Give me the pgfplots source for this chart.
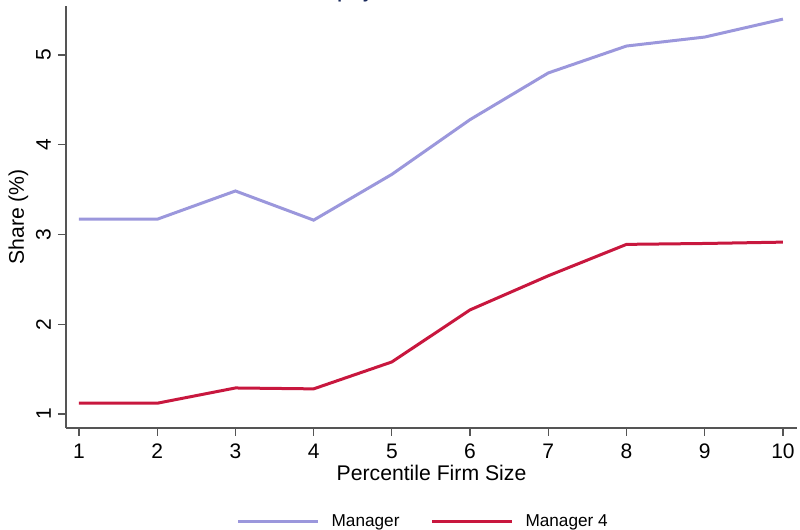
\documentclass[border=0pt]{standalone}
\usepackage{pgfplots}
\pgfplotsset{compat=1.18}
\usepackage{fontspec}
\setmainfont{Liberation Sans}
\definecolor{mgr}{HTML}{9B97DC}
\definecolor{mgrfour}{HTML}{C8173E}
\definecolor{axgray}{HTML}{555555}
\definecolor{titleblue}{HTML}{1A2A5C}
\begin{document}
\begin{tikzpicture}
\begin{axis}[
  at={(0,0)}, anchor=south west,
  scale only axis,
  width=365.5pt, height=211pt,
  xmin=0.834, xmax=10.18,
  ymin=0.844, ymax=5.546,
  axis x line*=bottom, axis y line*=left,
  axis line style={axgray, line width=0.8pt},
  xtick={1,...,10}, ytick={1,2,3,4,5},
  tick align=outside,
  major tick length=4pt,
  tick style={axgray, line width=0.6pt},
  /pgf/number format/assume math mode=true,
  ticklabel style={font=\fontsize{10.5}{12}\selectfont},
  yticklabel style={rotate=90, anchor=south, xshift=0pt},
  xticklabel style={yshift=-0.5pt},
  xlabel={Percentile Firm Size},
  ylabel={Share (\%)},
  label style={font=\fontsize{10.6}{12}\selectfont},
  xlabel style={yshift=4pt},
  ylabel style={yshift=-3pt},
  legend style={draw=none, at={(0.49,-0.185)}, anchor=north, legend columns=2,
    font=\fontsize{8.6}{10}\selectfont,
    /tikz/every odd column/.append style={column sep=4pt},
    /tikz/every even column/.append style={column sep=13.5pt}},
  legend image code/.code={\draw[#1, line width=1.5pt] (0pt,0pt) -- (40pt,0pt);},
  clip=false,
]
\addplot[mgr, line width=1.5pt] coordinates {
 (1,3.17) (2,3.17) (3,3.485) (4,3.16) (5,3.67) (6,4.28) (7,4.80) (8,5.10) (9,5.20) (10,5.40)};
\addlegendentry{Manager}
\addplot[mgrfour, line width=1.5pt] coordinates {
 (1,1.12) (2,1.12) (3,1.29) (4,1.28) (5,1.58) (6,2.16) (7,2.54) (8,2.89) (9,2.90) (10,2.915)};
\addlegendentry{Manager 4}
\end{axis}
\node[anchor=base, text=titleblue, font=\fontsize{8.5}{10}\selectfont\bfseries] at (148pt,214.5pt) {Employment};
\pgfresetboundingbox
\path[use as bounding box] (-33pt,-51pt) rectangle (367pt,214pt);
\end{tikzpicture}
\end{document}
